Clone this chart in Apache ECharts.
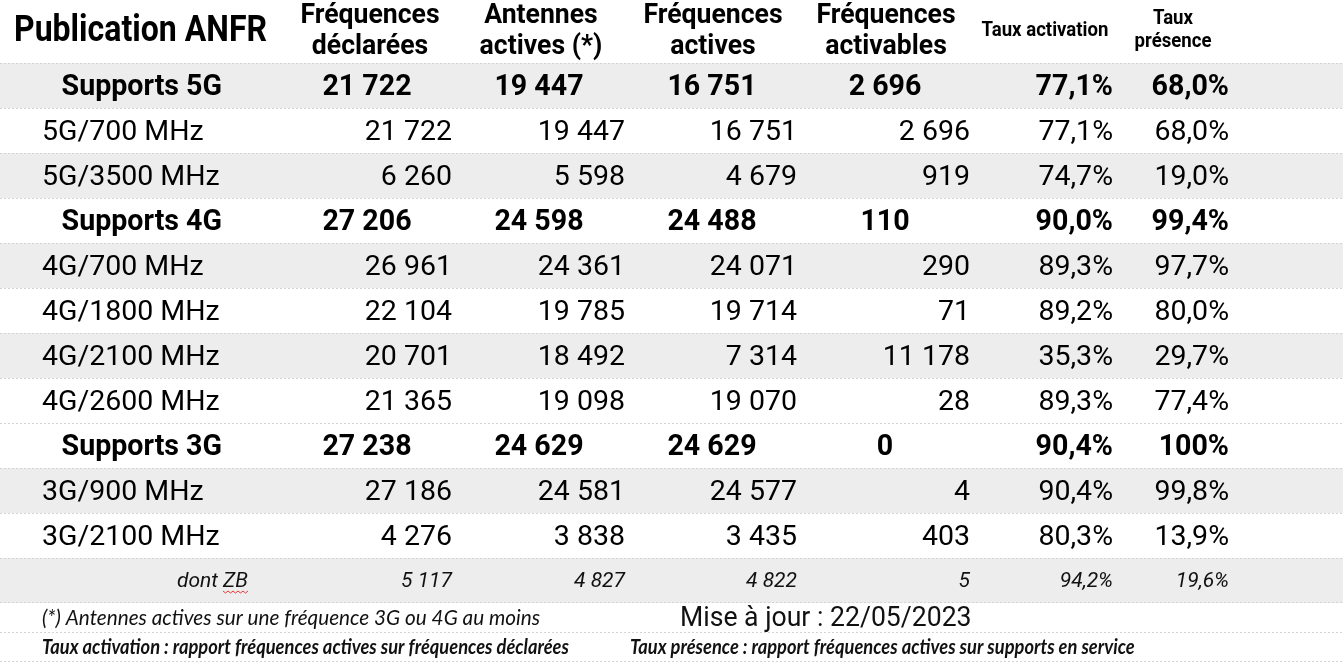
<!DOCTYPE html>
<html><head><meta charset="utf-8">
<script src="https://cdn.jsdelivr.net/npm/echarts@6/dist/echarts.min.js"></script>
<style>html,body{margin:0;padding:0;background:#fff}#c{width:1343px;height:664px}</style>
</head><body><div id="c"></div>
<script>
// ---- data ----
const rowLabels = ['Supports 5G','5G/700 MHz','5G/3500 MHz','Supports 4G','4G/700 MHz','4G/1800 MHz','4G/2100 MHz','4G/2600 MHz','Supports 3G','3G/900 MHz','3G/2100 MHz','dont ZB'];
const rowKinds = ['total','band','band','total','band','band','band','band','total','band','band','sub'];
const freqDeclarees = [21722,21722,6260,27206,26961,22104,20701,21365,27238,27186,4276,5117];
const antennesActives = [19447,19447,5598,24598,24361,19785,18492,19098,24629,24581,3838,4827];
const freqActives = [16751,16751,4679,24488,24071,19714,7314,19070,24629,24577,3435,4822];
const freqActivables = [2696,2696,919,110,290,71,11178,28,0,4,403,5];
const tauxActivation = [77.1,77.1,74.7,90.0,89.3,89.2,35.3,89.3,90.4,90.4,80.3,94.2];
const tauxPresence = [68.0,68.0,19.0,99.4,97.7,80.0,29.7,77.4,100,99.8,13.9,19.6];
const headerTexts = [['Publication ANFR'],['Fréquences','déclarées'],['Antennes','actives (*)'],['Fréquences','actives'],['Fréquences','activables'],['Taux activation'],['Taux','présence']];
const footnote1 = '(*) Antennes actives sur une fréquence 3G ou 4G au moins';
const updateText = 'Mise à jour : 22/05/2023';
const footnote2a = 'Taux activation : rapport fréquences actives sur fréquences déclarées';
const footnote2b = 'Taux présence : rapport fréquences actives sur supports en service';

// ---- layout / style ----
const shadedRows = new Set([0,2,4,6,9,11]);
const GREY = '#ededed', LINE = '#d4d4d4', INK = '#000';
const bandAnchors = [452,625,797,970,1113,1229];
const totalAnchors = [367,539,712,885,1113,1229];
const totalAligns = ['center','center','center','center','right','right'];

function fmtInt(n){ return String(n).replace(/\B(?=(\d{3})+(?!\d))/g,' '); }
function fmtPct(v){ return v===100 ? '100%' : v.toFixed(1).replace('.',',') + '%'; }

function txt(x, y, text, font, align, sx, fill){
  return {type:'text', x:x, y:y, scaleX: sx || 1,
    style:{text:text, x:0, y:0, font:font, fill: fill || INK, align:align, textAlign:align, verticalAlign:'middle', textVerticalAlign:'middle'}};
}

function renderItem(params, api){
  const i = api.value(0);
  const c = api.coord([0, i]);
  const h = api.size([0, 1])[1];
  const cs = params.coordSys;
  const top = c[1] - h/2, yc = c[1] + 2.5;
  const kind = rowKinds[i];
  const children = [];
  if (shadedRows.has(i)) children.push({type:'rect', shape:{x:cs.x, y:top, width:cs.width, height:h}, style:{fill:GREY}});
  children.push({type:'line', shape:{x1:cs.x, y1:top+0.5, x2:cs.x+cs.width, y2:top+0.5}, style:{stroke:LINE, lineWidth:1, lineDash:[2,2]}});
  if (i === rowLabels.length-1) children.push({type:'line', shape:{x1:cs.x, y1:top+h-0.5, x2:cs.x+cs.width, y2:top+h-0.5}, style:{stroke:LINE, lineWidth:1, lineDash:[2,2]}});
  const vals = [fmtInt(freqDeclarees[i]), fmtInt(antennesActives[i]), fmtInt(freqActives[i]), fmtInt(freqActivables[i]), fmtPct(tauxActivation[i]), fmtPct(tauxPresence[i])];
  if (kind === 'total'){
    const f = 'bold 28.6px Roboto';
    children.push(txt(222, yc, rowLabels[i], f, 'right'));
    vals.forEach((v,k)=>children.push(txt(totalAnchors[k], yc, v, f, totalAligns[k])));
  } else if (kind === 'band'){
    const f = '28.5px Roboto';
    children.push(txt(42, yc, rowLabels[i], f, 'left'));
    vals.forEach((v,k)=>children.push(txt(bandAnchors[k], yc, v, f, 'right')));
  } else {
    const f = 'italic 21px Roboto';
    children.push(txt(248, yc - 1.5, rowLabels[i], f, 'right', 1.0, '#111'));
    vals.forEach((v,k)=>children.push(txt(bandAnchors[k], yc - 1.5, v, f, 'right', 1.0, '#111')));
  }
  return {type:'group', children:children};
}

// header & footnote graphics
const headerPos = [
  {x:14, ys:[32], font:'bold 36px Roboto', align:'left', sx:0.89},
  {x:370, ys:[16,47], font:'bold 28px Roboto', align:'center', sx:0.95},
  {x:541, ys:[16,47], font:'bold 28px Roboto', align:'center', sx:0.95},
  {x:713, ys:[16,47], font:'bold 28px Roboto', align:'center', sx:0.95},
  {x:886, ys:[16,47], font:'bold 28px Roboto', align:'center', sx:0.95},
  {x:1045, ys:[31], font:'bold 20px Roboto', align:'center', sx:0.93},
  {x:1173, ys:[19,42], font:'bold 20px Roboto', align:'center', sx:0.93}
];
const graphics = [];
headerTexts.forEach((lines, k)=>{
  const p = headerPos[k];
  lines.forEach((t, j)=>graphics.push(txt(p.x, p.ys[j], t, p.font, p.align, p.sx)));
});
graphics.push(txt(42, 618, footnote1, 'italic 21px Lato', 'left', 0.987, '#111'));
graphics.push(txt(680, 619, updateText, '27px Roboto', 'left', 0.985, '#111'));
graphics.push(txt(42, 648, footnote2a, 'italic bold 20px Lato', 'left', 0.915, '#111'));
graphics.push(txt(630, 648, footnote2b, 'italic bold 20px Lato', 'left', 0.915, '#111'));
[632.5, 661.5].forEach(y=>graphics.push({type:'line', shape:{x1:0,y1:y,x2:1343,y2:y}, style:{stroke:LINE, lineWidth:1, lineDash:[2,2]}}));
// spell-check squiggle under "ZB"
graphics.push({type:'polyline', z:100, shape:{points:[[223,591],[225.5,593],[228,591],[230.5,593],[233,591],[235.5,593],[238,591],[240.5,593],[243,591],[245.5,593],[248,591]]}, style:{stroke:'#e53935', lineWidth:1, fill:null}});

const chart = echarts.init(document.getElementById('c'));
chart.setOption({
  animation:false,
  backgroundColor:'#fff',
  grid:{left:0, right:0, top:63, bottom:61},
  xAxis:{type:'value', min:0, max:1343, show:false},
  yAxis:{type:'category', data:rowLabels, inverse:true, show:false},
  series:[{type:'custom', renderItem:renderItem, data:rowLabels.map((_,i)=>[i]), encode:{y:0}, clip:false}],
  graphic:{elements:graphics}
});
</script></body></html>
